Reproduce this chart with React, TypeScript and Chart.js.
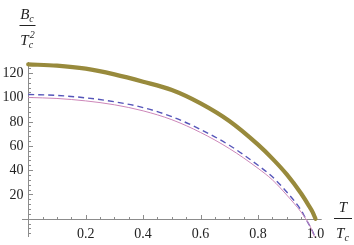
import React, { useEffect, useRef } from "react";
import { Chart, registerables } from "chart.js";

Chart.register(...registerables);

// Data
const T_OLIVE = [0, 0.1, 0.2, 0.3, 0.4, 0.5, 0.6, 0.7, 0.8, 0.85, 0.9, 0.95, 0.975, 0.99, 1.0];
const B_OLIVE = [127, 126, 123.5, 118.8, 112.8, 106, 95, 80.5, 61, 49.5, 36.5, 20.8, 11.5, 5.5, 0];

const T_DASHED = [0, 0.1, 0.2, 0.3, 0.4, 0.5, 0.6, 0.7, 0.8, 0.85, 0.9, 0.95, 0.966, 0.985, 1.0];
const B_DASHED = [102.3, 101.5, 99.5, 96.3, 91.5, 84, 73.5, 60.5, 44, 34.5, 22, 7, 0, -8, -16];

const T_THIN = [0, 0.1, 0.2, 0.3, 0.4, 0.5, 0.6, 0.7, 0.8, 0.85, 0.9, 0.95, 0.966, 0.985, 1.0];
const B_THIN = [99.8, 99, 97, 93.8, 88.8, 81.5, 71, 57.8, 41.5, 32, 19.5, 5.5, 0, -8, -17];

const X_TICKS = [0.2, 0.4, 0.6, 0.8, 1.0];
const X_TICK_LABELS = ["0.2", "0.4", "0.6", "0.8", "1.0"];
const Y_TICKS = [20, 40, 60, 80, 100, 120];
const Y_TICK_LABELS = ["20", "40", "60", "80", "100", "120"];

const X_MIN = -0.0216;
const X_MAX = 1.0216;
const Y_MIN = -15;
const Y_MAX = 129;

const SERIF = '"Liberation Serif", "DejaVu Serif", serif';

const axesPlugin = {
  id: "mmaAxes",
  beforeDatasetsDraw(chart: any) {
    const { ctx, chartArea: a, scales } = chart;
    const xs = scales.x;
    const ys = scales.y;
    const x0 = Math.round(xs.getPixelForValue(0)) + 0.5;
    const y0 = Math.round(ys.getPixelForValue(0)) + 0.5;
    ctx.save();
    ctx.strokeStyle = "#8c8c8c";
    ctx.lineWidth = 1;
    ctx.beginPath();
    ctx.moveTo(a.left, y0);
    ctx.lineTo(a.right, y0);
    ctx.moveTo(x0, a.top);
    ctx.lineTo(x0, a.bottom);
    ctx.stroke();

    ctx.beginPath();
    for (let i = 1; i <= 20; i++) {
      const v = i * 0.05;
      const px = Math.round(xs.getPixelForValue(v)) + 0.5;
      const len = i % 4 === 0 ? 4.5 : 2.5;
      ctx.moveTo(px, y0);
      ctx.lineTo(px, y0 - len);
    }
    for (let v = -12; v <= 128; v += 4) {
      if (v === 0) continue;
      const py = Math.round(ys.getPixelForValue(v)) + 0.5;
      const len = v % 20 === 0 ? 4.5 : 2.5;
      ctx.moveTo(x0, py);
      ctx.lineTo(x0 + len, py);
    }
    ctx.stroke();

    ctx.fillStyle = "#222";
    ctx.font = "14px " + SERIF;
    ctx.textAlign = "center";
    ctx.textBaseline = "middle";
    X_TICKS.forEach((v, i) => {
      ctx.fillText(X_TICK_LABELS[i], xs.getPixelForValue(v), y0 + 15);
    });
    ctx.textAlign = "right";
    Y_TICKS.forEach((v, i) => {
      ctx.fillText(Y_TICK_LABELS[i], x0 - 5, ys.getPixelForValue(v) + 0.5);
    });

    const drawFrac = (cx: number, lineY: number, top: string, topSub: string, bot: string, botSub: string, botSup: string, halfW: number) => {
      ctx.strokeStyle = "#222";
      ctx.lineWidth = 1;
      ctx.beginPath();
      ctx.moveTo(cx - halfW, lineY + 0.5);
      ctx.lineTo(cx + halfW, lineY + 0.5);
      ctx.stroke();
      const drawTerm = (y: number, main: string, sub: string, sup: string) => {
        ctx.font = "italic 15px " + SERIF;
        const mw = ctx.measureText(main).width;
        ctx.font = "italic 10px " + SERIF;
        const sw = Math.max(sub ? ctx.measureText(sub).width : 0, sup ? ctx.measureText(sup).width : 0);
        const total = mw + (sub || sup ? sw + 1 : 0);
        const sx = cx - total / 2;
        ctx.textAlign = "left";
        ctx.textBaseline = "alphabetic";
        ctx.font = "italic 15px " + SERIF;
        ctx.fillText(main, sx, y);
        ctx.font = "italic 10px " + SERIF;
        if (sub) ctx.fillText(sub, sx + mw, y + 3);
        if (sup) ctx.fillText(sup, sx + mw + 1, y - 7);
      };
      drawTerm(lineY - 6, top, topSub, "");
      drawTerm(lineY + 20, bot, botSub, botSup);
    };
    ctx.fillStyle = "#222";
    drawFrac(27.5, 25, "B", "c", "T", "c", "2", 8);
    drawFrac(343, 218, "T", "", "T", "c", "", 9);
    ctx.restore();
  },
};

export default function App() {
  const ref = useRef<HTMLCanvasElement>(null);
  useEffect(() => {
    document.body.style.margin = "0";
    const canvas = ref.current;
    if (!canvas) return;
    const toPts = (t: number[], b: number[]) => t.map((v, i) => ({ x: v, y: b[i] }));
    const chart = new Chart(canvas, {
      type: "line",
      data: {
        datasets: [
          {
            data: toPts(T_THIN, B_THIN),
            borderColor: "rgb(205,135,185)",
            borderWidth: 1,
            cubicInterpolationMode: "monotone",
            pointRadius: 0,
          },
          {
            data: toPts(T_DASHED, B_DASHED),
            borderColor: "rgb(85,85,185)",
            borderWidth: 1.4,
            borderDash: [6, 4],
            cubicInterpolationMode: "monotone",
            pointRadius: 0,
          },
          {
            data: toPts(T_OLIVE, B_OLIVE),
            borderColor: "rgb(152,138,60)",
            borderWidth: 4.2,
            borderCapStyle: "round",
            cubicInterpolationMode: "monotone",
            pointRadius: 0,
          },
        ],
      },
      options: {
        responsive: false,
        maintainAspectRatio: false,
        animation: false,
        layout: { padding: { left: 22, right: 32.3, top: 62, bottom: 8 } },
        plugins: { legend: { display: false }, tooltip: { enabled: false } },
        scales: {
          x: { type: "linear", min: X_MIN, max: X_MAX, display: false },
          y: { type: "linear", min: Y_MIN, max: Y_MAX, display: false },
        },
      },
      plugins: [axesPlugin],
    } as any);
    return () => chart.destroy();
  }, []);
  return <canvas ref={ref} width={354} height={245} style={{ display: "block" }} />;
}
